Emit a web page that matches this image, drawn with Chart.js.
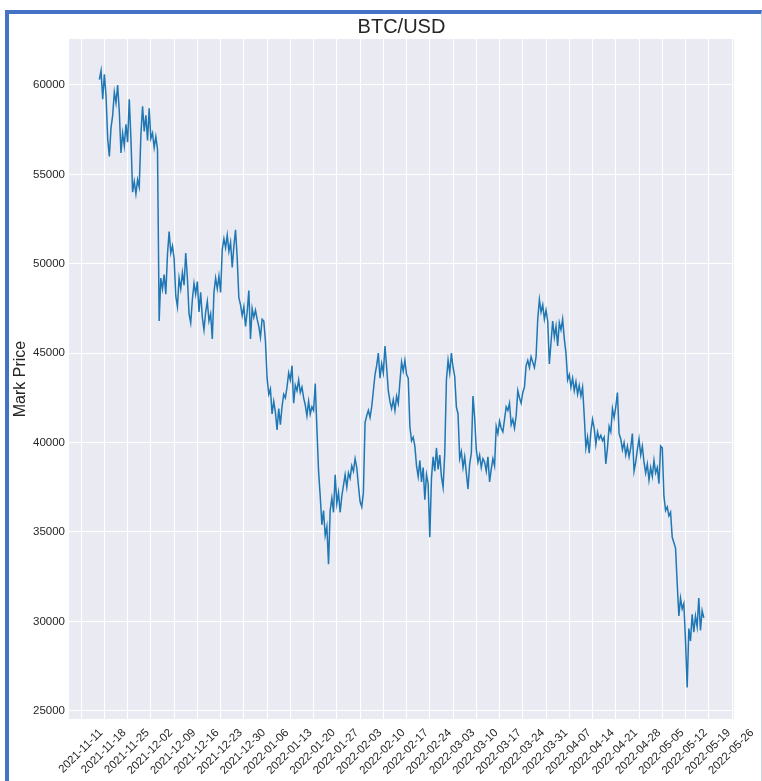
<!DOCTYPE html>
<html>
<head>
<meta charset="utf-8">
<title>BTC/USD</title>
<script src="https://cdn.jsdelivr.net/npm/chart.js@4.4.1/dist/chart.umd.min.js"></script>
<style>
  html, body { margin: 0; padding: 0; background: #fff; }
  #wrap { position: relative; width: 762px; height: 781px; overflow: hidden; }
  #frame {
    position: absolute; left: 5px; top: 10px; width: 752px; height: 800px;
    border-left: 4px solid #4472c4; border-top: 4px solid #4472c4;
    border-right: 1px solid #c9d3e8; pointer-events: none;
  }
</style>
</head>
<body>
<div id="wrap">
  <canvas id="chart" width="762" height="781"></canvas>
  <div id="frame"></div>
</div>
<script>
// weekly x ticks
const xTickLabels = [
  "2021-11-11", "2021-11-18", "2021-11-25", "2021-12-02", "2021-12-09", "2021-12-16",
  "2021-12-23", "2021-12-30", "2022-01-06", "2022-01-13", "2022-01-20", "2022-01-27",
  "2022-02-03", "2022-02-10", "2022-02-17", "2022-02-24", "2022-03-03", "2022-03-10",
  "2022-03-17", "2022-03-24", "2022-03-31", "2022-04-07", "2022-04-14", "2022-04-21",
  "2022-04-28", "2022-05-05", "2022-05-12", "2022-05-19", "2022-05-26"
];
const yTicks = [25000, 30000, 35000, 40000, 45000, 50000, 55000, 60000];
const chartTitle = "BTC/USD";

// mark price, one reading every 12 hours starting 2021-11-16 12:00 UTC
const firstTime = "2021-11-16T12:00:00Z";
const stepHours = 12;
const markPrice = [
  60300, 60800, 59200, 60600, 59400, 57000, 56000, 57600, 58300, 59600,
  59000, 60000, 58500, 56200, 57300, 56600, 57800, 56800, 59200, 57000,
  54000, 54600, 53900, 54700, 54300, 57200, 58800, 57400, 58300, 56900,
  58700, 57000, 57300, 56500, 57100, 56400, 46800, 49200, 48600, 49400,
  48300, 50500, 51800, 50600, 51000, 50300, 48200, 47600, 49200, 48600,
  49500, 48800, 50600, 49200, 47200, 46700, 48000, 48900, 48300, 49000,
  47300, 48400, 47000, 46300, 47300, 47900, 46800, 47200, 45800, 48400,
  49200, 48600, 49300, 48400, 50800, 51400, 50900, 51600, 50700, 51200,
  49800, 51000, 51900, 50300, 48100, 47700, 47100, 47600, 46500, 47300,
  48500, 45800, 47500, 47000, 47400, 46900, 46500, 45900, 46900, 46800,
  45700, 43600, 42700, 43000, 41600, 42300, 41700, 40700, 41900, 41000,
  42000, 42700, 42500, 43100, 43900, 43500, 44300, 42200, 43200, 42900,
  43500, 42800, 43100, 42500, 42100, 41500, 42300, 41600, 42000, 41800,
  43300, 40800, 38400, 37000, 35400, 36200, 34800, 35300, 33200, 36200,
  36900, 36100, 38200, 36600, 37200, 36100, 37000, 37600, 38200, 37500,
  38300, 38000, 38700, 38400, 39100, 38600, 37600, 36700, 36400, 37200,
  41100, 41500, 41800, 41400, 42000, 42900, 43800, 44300, 45000, 43600,
  44400, 43900, 45400, 44200, 42900, 42300, 41900, 42400, 41800, 42600,
  42200, 43400, 44500, 44000, 44600, 43800, 43600, 40900, 40100, 40300,
  39800, 38700, 38100, 39000, 37800, 38600, 36800, 38200, 37700, 34700,
  38000, 39200, 38400, 39700, 38500, 39300, 38100, 37500, 39400, 43500,
  44600, 43900, 45000, 44200, 43700, 42000, 41600, 39100, 39500, 38600,
  39200, 38300, 37400, 38800, 39400, 42600, 41400, 39600, 38900, 39300,
  38600, 39100, 38900, 38400, 39200, 37800, 38500, 39100, 38700, 40900,
  40500, 41200, 40800, 40600, 41300, 42000, 41800, 42200, 41000, 41300,
  40800, 41500, 42900, 42500, 42200, 42800, 43100, 44300, 44600, 44200,
  44800, 44500, 44200, 44800, 46900, 48000, 47300, 47700, 46900, 47400,
  46800, 44400, 45600, 46800, 45900, 46500, 45400, 46700, 46300, 46900,
  45800, 45000, 43500, 43800, 43100, 43600, 42900, 43400, 42700, 43200,
  42600, 43100, 41500, 39700, 40300, 39400, 40600, 41300, 40800, 39900,
  40600, 40200, 40400, 40100, 40300, 38800, 39700, 40900, 40600, 41900,
  41400, 42000, 42800, 40500, 40200, 39600, 40000, 39300, 39800, 39200,
  39700, 40500, 38400, 38900, 39600, 40200, 39300, 39800, 38900, 38300,
  38800, 37900, 38600, 38100, 39000, 38300, 38600, 37700, 39800, 39700,
  37000, 36200, 36400, 35900, 36100, 34700, 34400, 34100, 32100, 30300,
  31300, 30700, 31000, 28900, 26300, 29600, 28900, 30400, 29400, 30300,
  29700, 31300, 29500, 30600, 30200
];

const DAY = 86400000;
const origin = Date.parse(xTickLabels[0]);
const dayOf = t => (t - origin) / DAY;

const start = Date.parse(firstTime);
const points = markPrice.map((v, i) => ({ x: dayOf(start + i * stepHours * 3600000), y: v }));
const xTickDays = xTickLabels.map(s => dayOf(Date.parse(s)));

const textColor = "#262626";
const fontFamily = "'Liberation Sans', Arial, sans-serif";

// seaborn-like grey plot area
const plotBackground = {
  id: "plotBackground",
  beforeDraw(chart) {
    const { ctx, chartArea } = chart;
    ctx.save();
    ctx.fillStyle = "#eaeaf2";
    ctx.fillRect(chartArea.left, chartArea.top, chartArea.right - chartArea.left, chartArea.bottom - chartArea.top);
    ctx.restore();
  }
};

// title centred over the plot area, not the whole canvas
const plotTitle = {
  id: "plotTitle",
  afterDraw(chart) {
    const { ctx, chartArea } = chart;
    ctx.save();
    ctx.fillStyle = textColor;
    ctx.font = "20px " + fontFamily;
    ctx.textAlign = "center";
    ctx.textBaseline = "middle";
    ctx.fillText(chartTitle, (chartArea.left + chartArea.right) / 2, 27);
    ctx.restore();
  }
};

new Chart(document.getElementById("chart"), {
  type: "line",
  data: {
    datasets: [{
      label: "Mark Price",
      data: points,
      borderColor: "#1f77b4",
      borderWidth: 1.5,
      pointRadius: 0,
      tension: 0,
      fill: false
    }]
  },
  options: {
    responsive: false,
    animation: false,
    events: [],
    layout: { padding: { left: 0, right: 28, top: 39, bottom: 0 } },
    plugins: {
      legend: { display: false },
      tooltip: { enabled: false },
      title: { display: false }
    },
    scales: {
      x: {
        type: "linear",
        min: -3.65,
        max: 196.6,
        border: { display: false },
        grid: { color: "#ffffff", lineWidth: 1, drawTicks: false },
        afterBuildTicks: scale => { scale.ticks = xTickDays.map(v => ({ value: v })); },
        afterFit: scale => { scale.height = 62; },
        ticks: {
          autoSkip: false,
          maxRotation: 45,
          minRotation: 45,
          padding: 7,
          labelOffset: 20,
          color: textColor,
          font: { family: fontFamily, size: 11.5 },
          callback: (value, index) => xTickLabels[index]
        }
      },
      y: {
        min: 24540,
        max: 62570,
        border: { display: false },
        grid: { color: "#ffffff", lineWidth: 1, drawTicks: false },
        afterBuildTicks: scale => { scale.ticks = yTicks.map(v => ({ value: v })); },
        afterFit: scale => { scale.width = 69; },
        ticks: {
          padding: 4,
          color: textColor,
          font: { family: fontFamily, size: 11.5 },
          callback: value => String(value)
        },
        title: {
          display: true,
          text: "Mark Price",
          color: textColor,
          font: { family: fontFamily, size: 16 },
          padding: { top: 11, bottom: 0 }
        }
      }
    }
  },
  plugins: [plotBackground, plotTitle]
});
</script>
</body>
</html>
